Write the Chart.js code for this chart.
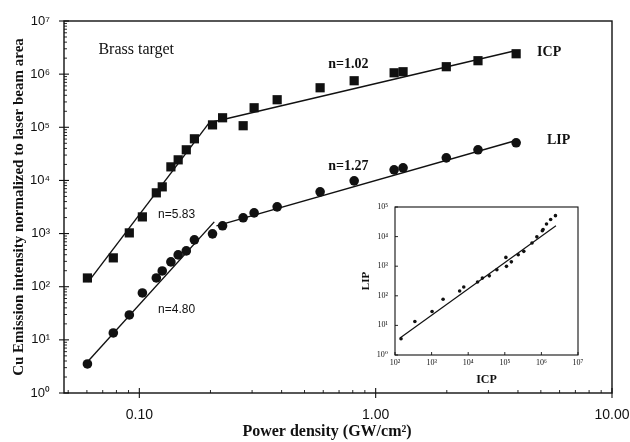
<!DOCTYPE html>
<html>
<head>
<meta charset="utf-8">
<script src="https://cdn.jsdelivr.net/npm/chart.js@4.4.1/dist/chart.umd.min.js"></script>
<style>
  html, body { margin:0; padding:0; background:#fff; }
  #wrap { position:relative; width:630px; height:442px; }
  #main { position:absolute; left:0; top:0; }
  #inset { position:absolute; left:350px; top:198px; }
</style>
</head>
<body>
<div id="wrap">
  <canvas id="main" width="630" height="442"></canvas>
  <canvas id="inset" width="240" height="190"></canvas>
</div>
<script>
// power density (GW/cm2), shared by both series
const powerDensity = [0.0603,0.0776,0.0907,0.103,0.118,0.125,0.136,0.146,0.158,0.171,0.204,0.225,0.275,0.306,0.383,0.582,0.811,1.197,1.306,1.99,2.71,3.93];
const icpIntensity = [146,349,1030,2060,5840,7570,18000,24400,37700,60700,111000,151000,107000,233000,330000,554000,751000,1.06e6,1.11e6,1.38e6,1.79e6,2.42e6];
const lipIntensity = [3.52,13.5,29.4,76.4,146,198,293,397,472,761,987,1400,1980,2450,3180,6100,9820,15800,17300,26600,37700,51100];

// fitted power-law segments (end points)
const icpSteepX = [0.0608, 0.1977];
const icpSteepY = [123, 1.22e5];
const icpFlatX = [0.1977, 3.89];
const icpFlatY = [1.22e5, 2.76e6];
const lipSteepX = [0.0608, 0.2075];
const lipSteepY = [4.0, 1660];
const lipFlatX = [0.212, 3.89];
const lipFlatY = [1400, 55700];

// inset: LIP vs ICP fit
const insetFitX = [137, 2.5e6];
const insetFitY = [3.78, 2.34e4];

const xTickValues = [0.1, 1, 10];
const xTickLabels = ['0.10', '1.00', '10.00'];
const yTickValues = [1, 10, 100, 1e3, 1e4, 1e5, 1e6, 1e7];
const yTickLabels = ['10\u2070','10\u00b9','10\u00b2','10\u00b3','10\u2074','10\u2075','10\u2076','10\u2077'];
const insetXTicks = [1e2, 1e3, 1e4, 1e5, 1e6, 1e7];
const insetXLabels = ['10\u00b2','10\u00b3','10\u2074','10\u2075','10\u2076','10\u2077'];
const insetYTicks = [1, 10, 100, 1e3, 1e4, 1e5];
const insetYLabels = ['10\u2070','10\u00b9','10\u00b2','10\u00b3','10\u2074','10\u2075'];

const SERIF = '"Liberation Serif", "DejaVu Serif", serif';
const SANS = '"Liberation Sans", Arial, sans-serif';
const INK = '#111';

const notes = [
  { text:'Brass target', x:0.0671, y:2.88e6, font:`16px ${SERIF}` },
  { text:'n=1.02', x:0.630, y:1.50e6, font:`bold 14px ${SERIF}` },
  { text:'n=1.27', x:0.630, y:1.80e4, font:`bold 14px ${SERIF}` },
  { text:'n=5.83', x:0.120, y:2250, font:`12px ${SANS}` },
  { text:'n=4.80', x:0.120, y:36.6, font:`12px ${SANS}` },
  { text:'ICP', x:4.82, y:2.53e6, font:`bold 14px ${SERIF}` },
  { text:'LIP', x:5.31, y:5.57e4, font:`bold 14px ${SERIF}` },
];

function pts(xs, ys){ return xs.map((x, i) => ({ x, y: ys[i] })); }

function fitLine(xs, ys){
  return { data: pts(xs, ys), showLine:true, pointRadius:0, borderColor:INK, borderWidth:1.4, fill:false };
}

function logTicks(values){
  return (s) => { s.ticks = values.map(v => ({ value: v })); };
}

function line(ctx, x1, y1, x2, y2){
  ctx.beginPath(); ctx.moveTo(x1, y1); ctx.lineTo(x2, y2); ctx.stroke();
}

function minorValues(min, max){
  const out = [];
  for (let e = Math.floor(Math.log10(min)); e <= Math.ceil(Math.log10(max)); e++){
    for (let m = 2; m <= 9; m++){
      const v = m * Math.pow(10, e);
      if (v > min && v < max) out.push(v);
    }
  }
  return out;
}

const mainDecor = {
  id: 'mainDecor',
  afterDatasetsDraw(chart){
    const { ctx, chartArea:a, scales:{ x, y } } = chart;
    ctx.save();
    ctx.strokeStyle = INK;
    ctx.lineWidth = 1.4;
    ctx.strokeRect(a.left, a.top, a.right - a.left, a.bottom - a.top);
    ctx.lineWidth = 1.1;
    xTickValues.forEach(v => { const p = x.getPixelForValue(v); line(ctx, p, a.bottom - 5, p, a.bottom + 5); });
    yTickValues.forEach(v => { const p = y.getPixelForValue(v); line(ctx, a.left - 5, p, a.left + 5, p); });
    ctx.lineWidth = 0.9;
    minorValues(x.min, x.max).forEach(v => { const p = x.getPixelForValue(v); line(ctx, p, a.bottom, p, a.bottom - 3); });
    minorValues(y.min, y.max).forEach(v => { const p = y.getPixelForValue(v); line(ctx, a.left, p, a.left + 3, p); });

    ctx.fillStyle = INK;
    ctx.textBaseline = 'middle';
    ctx.textAlign = 'left';
    notes.forEach(n => {
      ctx.font = n.font;
      ctx.fillText(n.text, x.getPixelForValue(n.x), y.getPixelForValue(n.y));
    });
    ctx.textAlign = 'center';
    ctx.font = `bold 16px ${SERIF}`;
    ctx.fillText('Power density (GW/cm\u00b2)', 327, 432);
    ctx.restore();
  }
};

new Chart(document.getElementById('main'), {
  type: 'scatter',
  data: {
    datasets: [
      { label:'ICP', data: pts(powerDensity, icpIntensity), pointStyle:'rect', pointRadius:6.5, backgroundColor:INK, borderColor:INK, borderWidth:0 },
      { label:'LIP', data: pts(powerDensity, lipIntensity), pointStyle:'circle', pointRadius:4.8, backgroundColor:INK, borderColor:INK, borderWidth:0 },
      fitLine(icpSteepX, icpSteepY),
      fitLine(icpFlatX, icpFlatY),
      fitLine(lipSteepX, lipSteepY),
      fitLine(lipFlatX, lipFlatY),
    ],
  },
  options: {
    responsive: false,
    animation: false,
    layout: { padding: { top:21, right:18, left:0, bottom:0 } },
    plugins: { legend:{ display:false }, tooltip:{ enabled:false } },
    scales: {
      x: {
        type: 'logarithmic', min: 0.048, max: 10,
        afterBuildTicks: logTicks(xTickValues),
        afterFit: (s) => { s.height = 49; s.paddingLeft = 0; s.paddingRight = 0; },
        grid: { display:false, drawTicks:true, tickLength:6 },
        border: { display:false },
        ticks: { padding:8, color:INK, autoSkip:false, maxRotation:0, font:{ family:SANS, size:14 },
                 callback: (v, i) => xTickLabels[i] },
      },
      y: {
        type: 'logarithmic', min: 1, max: 1e7,
        afterBuildTicks: logTicks(yTickValues),
        afterFit: (s) => { s.width = 64; s.paddingTop = 0; s.paddingBottom = 0; },
        grid: { display:false, drawTicks:true, tickLength:6 },
        border: { display:false },
        ticks: { padding:8, color:INK, autoSkip:false, font:{ family:SANS, size:13 },
                 callback: (v, i) => yTickLabels[i] },
        title: { display:true, text:'Cu Emission intensity normalized to laser beam area', color:INK,
                 font:{ family:SERIF, size:15, weight:'bold' }, padding:{ top:10, bottom:0 } },
      },
    },
  },
  plugins: [mainDecor],
});

const insetDecor = {
  id: 'insetDecor',
  afterDatasetsDraw(chart){
    const { ctx, chartArea:a, scales:{ x, y } } = chart;
    ctx.save();
    ctx.strokeStyle = INK;
    ctx.lineWidth = 1.1;
    ctx.strokeRect(a.left, a.top, a.right - a.left, a.bottom - a.top);
    ctx.lineWidth = 0.9;
    insetXTicks.forEach(v => { const p = x.getPixelForValue(v); line(ctx, p, a.bottom, p, a.bottom - 3); });
    insetYTicks.forEach(v => { const p = y.getPixelForValue(v); line(ctx, a.left, p, a.left + 3, p); });
    ctx.restore();
  }
};

new Chart(document.getElementById('inset'), {
  type: 'scatter',
  data: {
    datasets: [
      { label:'LIP vs ICP', data: pts(icpIntensity, lipIntensity), pointStyle:'circle', pointRadius:1.8, backgroundColor:INK, borderWidth:0 },
      { data: pts(insetFitX, insetFitY), showLine:true, pointRadius:0, borderColor:INK, borderWidth:1.2 },
    ],
  },
  options: {
    responsive: false,
    animation: false,
    layout: { padding: { top:9, right:12, left:0, bottom:0 } },
    plugins: { legend:{ display:false }, tooltip:{ enabled:false } },
    scales: {
      x: {
        type: 'logarithmic', min: 100, max: 1e7,
        afterBuildTicks: logTicks(insetXTicks),
        afterFit: (s) => { s.height = 33; s.paddingLeft = 0; s.paddingRight = 0; },
        grid: { display:false, drawTicks:false },
        border: { display:false },
        ticks: { padding:3, color:INK, autoSkip:false, maxRotation:0, font:{ family:SERIF, size:8 },
                 callback: (v, i) => insetXLabels[i] },
        title: { display:true, text:'ICP', color:INK, font:{ family:SERIF, size:12, weight:'bold' }, padding:{ top:0, bottom:1 } },
      },
      y: {
        type: 'logarithmic', min: 1, max: 1e5,
        afterBuildTicks: logTicks(insetYTicks),
        afterFit: (s) => { s.width = 45; s.paddingTop = 0; s.paddingBottom = 0; },
        grid: { display:false, drawTicks:false },
        border: { display:false },
        ticks: { padding:7, color:INK, autoSkip:false, font:{ family:SERIF, size:8 },
                 callback: (v, i) => insetYLabels[i] },
        title: { display:true, text:'LIP', color:INK, font:{ family:SERIF, size:11, weight:'bold' }, padding:{ top:10, bottom:0 } },
      },
    },
  },
  plugins: [insetDecor],
});
</script>
</body>
</html>
